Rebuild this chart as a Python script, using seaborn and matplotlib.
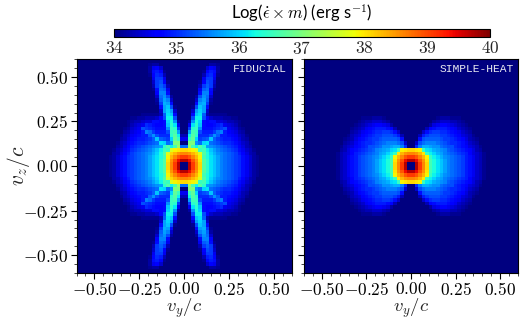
import numpy as np
import matplotlib
matplotlib.use("Agg")
import matplotlib.pyplot as plt
from matplotlib.ticker import FixedLocator
import seaborn as sns

panel_names = ["FIDUCIAL", "SIMPLE-HEAT"]
cbar_ticks = [34, 35, 36, 37, 38, 39, 40]
v_ticks = [-0.50, -0.25, 0.00, 0.25, 0.50]
v_tick_labels = ["$-0.50$", "$-0.25$", "$0.00$", "$0.25$", "$0.50$"]
cell = 0.02
half_cells = 30
log_floor = 34.0

# Quadrant readings, tenths of a dex above the floor; rows are |vz|=.01,.03,...; columns |vy|=.01,.03,...
fiducial_quadrant = [
    [0,57,51,46,41,27,24,21,19,17,15,14,13,12,11,10,8,6,4,2,1],
    [57,54,49,45,40,27,24,21,19,17,15,14,13,12,11,10,8,6,4,2,1],
    [51,49,46,43,39,26,23,21,19,17,15,14,13,12,11,10,8,6,4,2,1],
    [46,45,43,41,37,27,23,20,18,16,15,14,13,12,11,9,7,5,3,2,0],
    [41,40,39,37,25,26,22,19,17,15,14,13,12,11,10,8,6,4,3,1,0],
    [14,32,26,22,27,24,17,16,15,14,13,12,11,10,9,7,5,3,2,0,0],
    [0,30,30,16,14,20,21,14,13,12,11,10,10,9,8,6,4,3,1,0,0],
    [6,25,28,20,11,12,13,19,13,11,10,9,9,8,7,5,3,2,0,0,0],
    [3,22,27,24,10,10,10,12,16,13,9,9,8,7,6,4,3,1,0,0,0],
    [0,17,26,25,12,9,9,9,11,14,15,9,7,6,5,3,2,0],
    [0,11,24,25,16,8,8,8,9,10,11,12,6,5,4,2,1],
    [0,6,21,24,19,8,7,7,8,9,10,6,5,4,3,1],
    [0,2,16,23,20,8,7,8,8,5,5,4,3,3,2,1],
    [0,0,12,22,22,12,7,4,3,3,3,2,2,1,1],
    [0,0,8,19,21,13,3,1,1,1,1,1],
    [0,0,4,17,20,17,4],
    [0,0,1,12,19,17,8],
    [0,0,0,8,17,18,11,1],
    [0,0,0,4,15,17,13,2],
    [0,0,0,2,12,16,14,4],
    [0,0,0,0,8,15,15,7],
    [0,0,0,0,6,13,14,8,1],
    [0,0,0,0,3,11,13,11,3],
    [0,0,0,0,1,7,12,11,4],
    [0,0,0,0,0,6,11,11,6],
    [0,0,0,0,0,3,9,10,7,1],
    [0,0,0,0,0,1,7,9,8,2],
    [0,0,0,0,0,0,4,7,6,2],
    [0,0,0,0,0,0,0,2,2,1],
]
simple_quadrant = [
    [0,57,51,46,41,26,23,21,19,17,15,14,13,12,11,9,8,6,4,3,1,0],
    [57,54,49,45,40,26,23,21,19,17,15,14,13,12,11,9,8,6,4,3,1,0],
    [51,49,46,43,39,25,22,20,18,16,15,14,13,12,11,9,8,6,4,3,1,0],
    [46,45,43,40,25,22,20,18,17,15,14,13,12,11,10,9,7,5,4,3,1,0],
    [41,40,39,25,21,20,18,17,16,15,13,12,11,10,9,8,7,5,3,2,0,0],
    [0,10,15,18,18,17,16,16,14,13,12,12,10,9,8,7,5,4,3,1],
    [0,4,12,14,15,15,15,14,13,12,11,10,10,9,8,6,4,3,2,0],
    [0,0,8,12,13,13,13,13,12,11,11,10,9,8,7,5,3,2,1],
    [0,0,3,9,11,12,12,12,11,11,10,9,8,7,5,4,3,1],
    [0,0,0,4,8,10,11,11,10,10,9,8,7,6,4,3,2],
    [0,0,0,0,3,7,8,9,9,9,8,7,6,4,3,2,1],
    [0,0,0,0,0,2,5,6,7,7,6,5,4,3,2,1],
    [0,0,0,0,0,0,2,3,4,4,4,3,3,2,1],
    [0,0,0,0,0,0,0,1,2,2,2,1,1,1],
]


def full_map(rows):
    q = np.zeros((half_cells, half_cells))
    for j, row in enumerate(rows):
        q[j, :len(row)] = row
    return log_floor + 0.1 * np.block([[q[::-1, ::-1], q[::-1]], [q[:, ::-1], q]])


def to_cell(v):
    return (np.asarray(v) + half_cells * cell) / cell


sns.set_theme(style="ticks")
plt.rcParams["mathtext.fontset"] = "cm"
plt.rcParams["font.family"] = ["Lato", "DejaVu Sans"]

W, H = 523, 323
fig = plt.figure(figsize=(W / 100, H / 100), dpi=100)
ax1 = fig.add_axes([76.5 / W, 1 - 273 / H, 215 / W, 214 / H])
ax2 = fig.add_axes([304 / W, 1 - 273 / H, 214 / W, 214 / H])
cax = fig.add_axes([114 / W, 1 - 37 / H, 376 / W, 8 / H])

for ax, rows, name in zip((ax1, ax2), (fiducial_quadrant, simple_quadrant), panel_names):
    sns.heatmap(full_map(rows), ax=ax, cmap="jet", vmin=34, vmax=40, cbar=False,
                xticklabels=False, yticklabels=False, linewidths=0, rasterized=True)
    for s in ax.spines.values():
        s.set_visible(True)
        s.set_linewidth(0.8)
        s.set_color("black")
    ax.set_xticks(to_cell(v_ticks))
    ax.set_xticklabels(v_tick_labels)
    ax.set_yticks(half_cells * 2 - to_cell(v_ticks))
    ax.xaxis.set_minor_locator(FixedLocator(to_cell(np.arange(-0.6, 0.601, 0.05))))
    ax.yaxis.set_minor_locator(FixedLocator(to_cell(np.arange(-0.6, 0.601, 0.05))))
    ax.tick_params(axis="both", which="major", direction="out", length=4, width=0.8,
                   labelsize=12.5, bottom=True, left=True, pad=2, colors="black",
                   labelrotation=0)
    ax.tick_params(axis="both", which="minor", direction="out", length=2, width=0.6,
                   bottom=True, left=True)
    ax.set_xlabel(r"$v_y/c$", fontsize=13.5)
    ax.xaxis.set_label_coords(0.5, -0.108)
    ax.text(0.98, 0.955, name, transform=ax.transAxes, ha="right", va="center",
            color="#e8e8f0", fontsize=8.1, family="Liberation Mono")

ax1.set_yticklabels(v_tick_labels)
ax1.set_ylabel(r"$v_z/c$", fontsize=15.5)
ax1.yaxis.set_label_coords(-0.205, 0.5)
ax2.set_yticklabels([])
ax2.set_ylabel("")

cb = fig.colorbar(ax1.collections[0], cax=cax, orientation="horizontal")
cb.set_ticks(cbar_ticks)
cb.set_ticklabels([f"${t}$" for t in cbar_ticks])
cb.ax.tick_params(labelsize=12.5, length=0, pad=2)
cb.outline.set_linewidth(0.8)
cb.outline.set_edgecolor("black")
fig.text(302 / W, 1 - 13 / H, r"Log($\dot{\epsilon}\times m$) (erg s$^{-1}$)",
         ha="center", va="center", fontsize=12, color="black")

fig.savefig("out.png", dpi=100)
